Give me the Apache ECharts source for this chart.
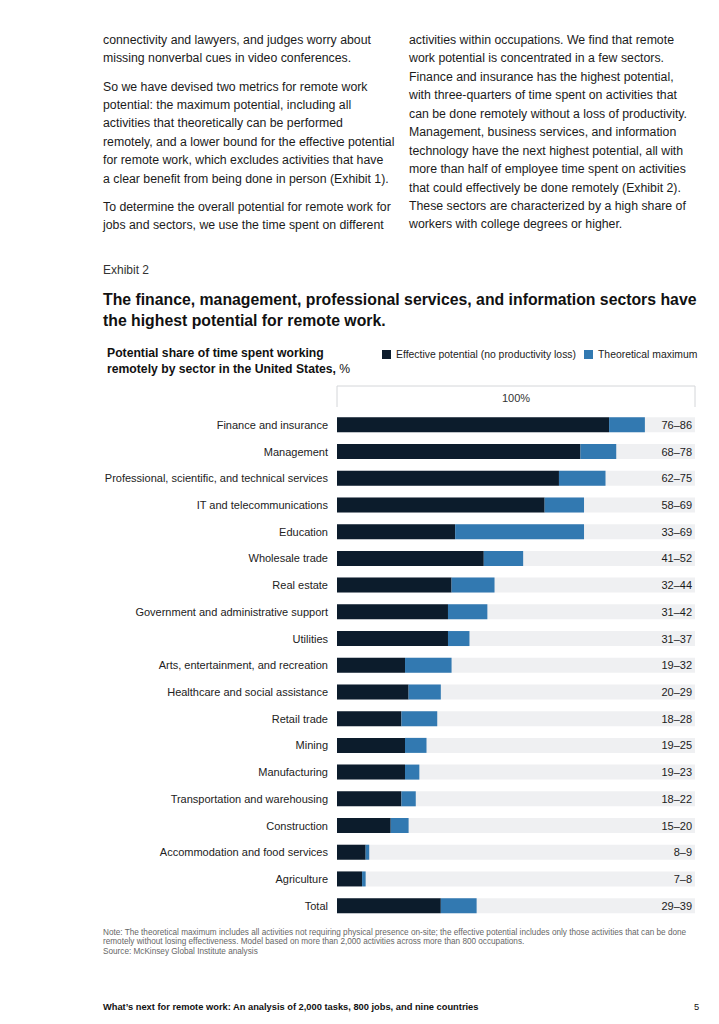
<!DOCTYPE html>
<html>
<head>
<meta charset="utf-8">
<script src="https://cdn.jsdelivr.net/npm/echarts@6/dist/echarts.min.js"></script>
<style>
  html, body { margin:0; padding:0; background:#fff; }
  body { width:719px; height:1024px; position:relative; overflow:hidden;
         font-family:"Liberation Sans", Arial, sans-serif; color:#1b1b1b; }
  #chart { position:absolute; left:0; top:0; width:719px; height:1024px; }
  .t { position:absolute; white-space:nowrap; z-index:2; }
  .body { font-size:12.3px; line-height:18.43px; }
</style>
</head>
<body>
<div id="chart"></div>

<div class="t body" style="left:103px; top:31px;">connectivity and lawyers, and judges worry about<br>missing nonverbal cues in video conferences.</div>
<div class="t body" style="left:103px; top:77.5px;">So we have devised two metrics for remote work<br>potential: the maximum potential, including all<br>activities that theoretically can be performed<br>remotely, and a lower bound for the effective potential<br>for remote work, which excludes activities that have<br>a clear benefit from being done in person (Exhibit 1).</div>
<div class="t body" style="left:103px; top:197.5px;">To determine the overall potential for remote work for<br>jobs and sectors, we use the time spent on different</div>

<div class="t body" style="left:409px; top:31px;">activities within occupations. We find that remote<br>work potential is concentrated in a few sectors.<br>Finance and insurance has the highest potential,<br>with three-quarters of time spent on activities that<br>can be done remotely without a loss of productivity.<br>Management, business services, and information<br>technology have the next highest potential, all with<br>more than half of employee time spent on activities<br>that could effectively be done remotely (Exhibit 2).<br>These sectors are characterized by a high share of<br>workers with college degrees or higher.</div>

<div class="t" style="left:103px; top:262px; font-size:12px; line-height:16px; color:#333;">Exhibit 2</div>
<div class="t" style="left:103px; top:288.5px; font-size:15.8px; line-height:21px; font-weight:bold; color:#111;">The finance, management, professional services, and information sectors have<br>the highest potential for remote work.</div>
<div class="t" style="left:107px; top:346px; font-size:12.2px; line-height:15.5px; font-weight:bold; color:#111;">Potential share of time spent working<br>remotely by sector in the United States, <span style="font-weight:normal">%</span></div>

<div class="t" style="left:103px; top:927.5px; font-size:8.2px; line-height:9.6px; color:#666;">Note: The theoretical maximum includes all activities not requiring physical presence on-site; the effective potential includes only those activities that can be done<br>remotely without losing effectiveness. Model based on more than 2,000 activities across more than 800 occupations.<br>Source: McKinsey Global Institute analysis</div>

<div class="t" style="left:103px; top:1001px; font-size:9.3px; line-height:12px; font-weight:bold; color:#111;">What’s next for remote work: An analysis of 2,000 tasks, 800 jobs, and nine countries</div>
<div class="t" style="left:694px; top:1001px; font-size:9.3px; line-height:12px; color:#111;">5</div>

<script>
// ---- data ----
var categories = [
  "Finance and insurance",
  "Management",
  "Professional, scientific, and technical services",
  "IT and telecommunications",
  "Education",
  "Wholesale trade",
  "Real estate",
  "Government and administrative support",
  "Utilities",
  "Arts, entertainment, and recreation",
  "Healthcare and social assistance",
  "Retail trade",
  "Mining",
  "Manufacturing",
  "Transportation and warehousing",
  "Construction",
  "Accommodation and food services",
  "Agriculture",
  "Total"
];
var effective = [76, 68, 62, 58, 33, 41, 32, 31, 31, 19, 20, 18, 19, 19, 18, 15, 8, 7, 29];
var theoretical = [86, 78, 75, 69, 69, 52, 44, 42, 37, 32, 29, 28, 25, 23, 22, 20, 9, 8, 39];
var seriesNames = ["Effective potential (no productivity loss)", "Theoretical maximum"];
var headerLabel = "100%";

var gap = theoretical.map(function (v, i) { return v - effective[i]; });
var rest = theoretical.map(function (v) { return 100 - v; });

var chart = echarts.init(document.getElementById('chart'), null, { renderer: 'svg' });
var FONT = '"Liberation Sans", Arial, sans-serif';

chart.setOption({
  animation: false,
  textStyle: { fontFamily: FONT },
  legend: {
    data: seriesNames,
    left: 382, top: 349.5, padding: 0,
    itemWidth: 9, itemHeight: 9, itemGap: 8,
    icon: 'rect',
    textStyle: { fontSize: 10.4, color: '#222', fontFamily: FONT }
  },
  grid: { left: 337, right: 24, top: 411.5, bottom: 105, containLabel: false },
  xAxis: { type: 'value', min: 0, max: 100, show: false },
  yAxis: {
    type: 'category', inverse: true, data: categories,
    axisLine: { show: false }, axisTick: { show: false },
    axisLabel: { margin: 9, fontSize: 11, color: '#222', fontFamily: FONT }
  },
  series: [
    {
      name: seriesNames[0], type: 'bar', stack: 'a', data: effective,
      barWidth: 15, itemStyle: { color: '#0c1c2c' },
      showBackground: true, backgroundStyle: { color: '#eff0f2' }
    },
    {
      name: seriesNames[1], type: 'bar', stack: 'a', data: gap,
      barWidth: 15, itemStyle: { color: '#3279b1' }
    },
    {
      name: 'range', type: 'bar', stack: 'a', data: rest,
      barWidth: 15, itemStyle: { color: 'rgba(0,0,0,0)' },
      label: {
        show: true, position: 'insideRight', distance: 3,
        fontSize: 11, color: '#1b1b1b', fontFamily: FONT,
        formatter: function (p) { return effective[p.dataIndex] + '–' + theoretical[p.dataIndex]; }
      }
    }
  ]
});

var x0 = chart.convertToPixel({ xAxisIndex: 0 }, 0);
var x1 = chart.convertToPixel({ xAxisIndex: 0 }, 100);
chart.setOption({
  graphic: [
    { type: 'polyline', shape: { points: [[x0, 407], [x0, 386], [x1, 386], [x1, 407]] },
      style: { stroke: '#d4d6d9', lineWidth: 1, fill: null } },
    { type: 'text', x: (x0 + x1) / 2, y: 397.5,
      style: { text: headerLabel, fontSize: 11, fill: '#333', fontFamily: FONT, align: 'center', verticalAlign: 'middle' } }
  ]
});
</script>
</body>
</html>
